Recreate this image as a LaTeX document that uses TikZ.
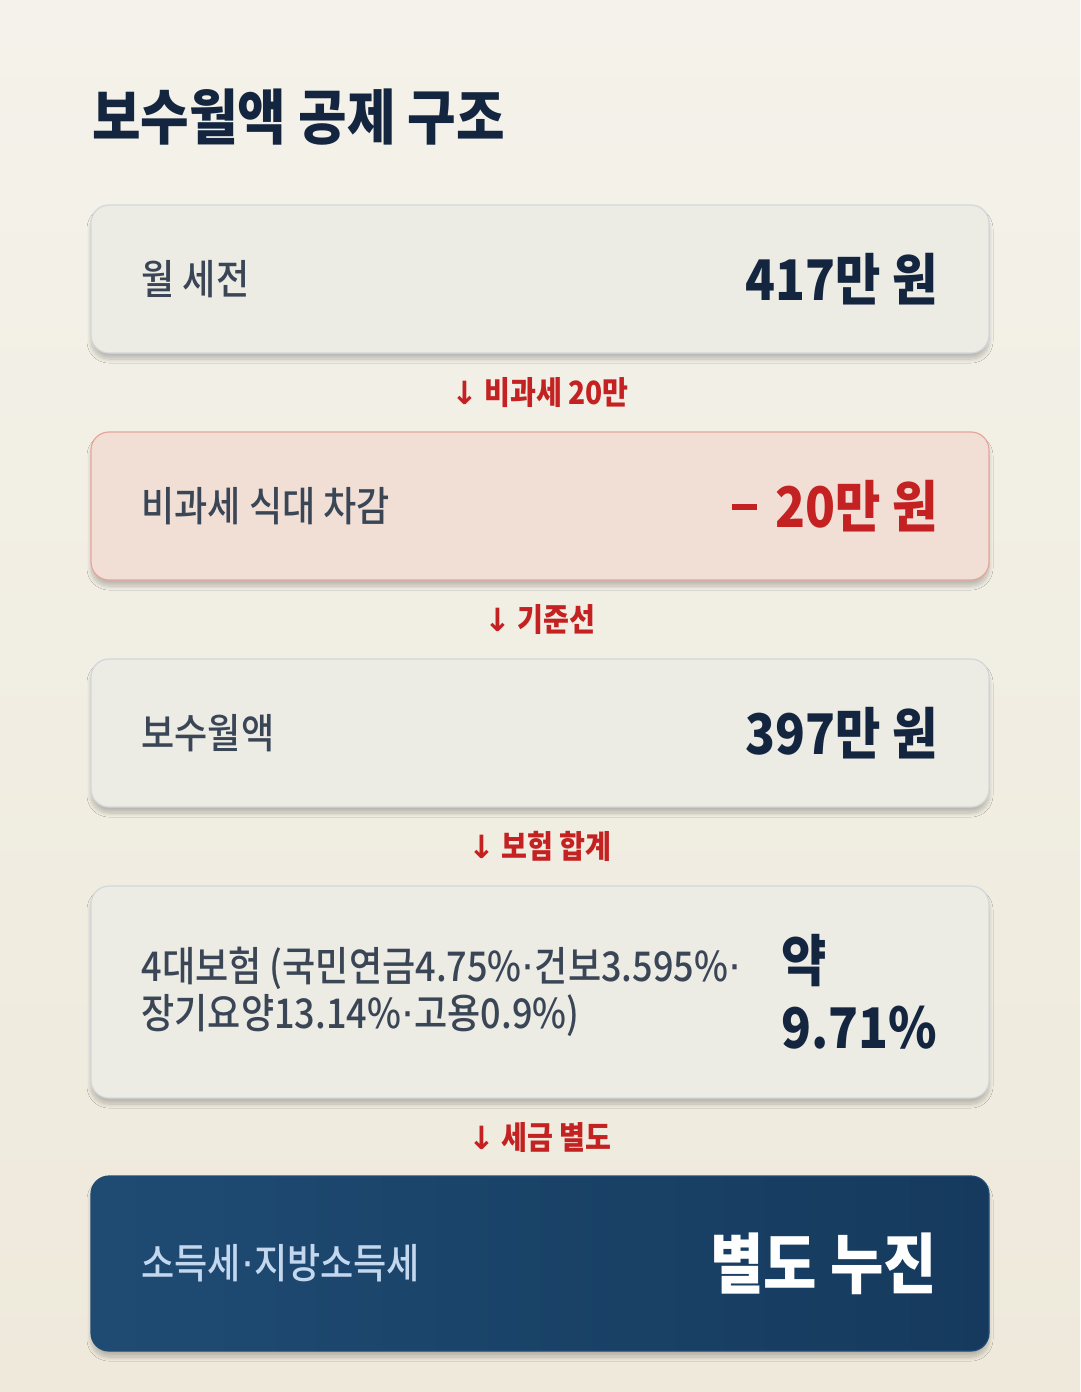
\documentclass[tikz,border=0pt]{standalone}
\usepackage{fontspec}
\setmainfont{Noto Sans CJK KR}[FakeStretch=0.88]
\newfontfamily\krmed{Noto Sans CJK KR Medium}[FakeStretch=0.88]
\newfontfamily\symfont{DejaVu Sans}
\usetikzlibrary{positioning,calc,shadows.blur}

\definecolor{bgtop}{HTML}{F4F2EA}
\definecolor{bgbot}{HTML}{EEE9DB}
\definecolor{cardfill}{HTML}{ECEBE4}
\definecolor{cardline}{HTML}{D2D7DB}
\definecolor{minusfill}{HTML}{F1DFD6}
\definecolor{minusline}{HTML}{E7A59B}
\definecolor{navyl}{HTML}{1F4B73}
\definecolor{navyr}{HTML}{153A5D}
\definecolor{navytext}{HTML}{14263F}
\definecolor{labeltext}{HTML}{3A4656}
\definecolor{redtext}{HTML}{C42222}
\definecolor{paletext}{HTML}{C3D7EE}

\tikzset{
  card/.style={draw=cardline, line width=1.2pt, rounded corners=18pt,
    minimum width=898pt, inner sep=0pt, fill=cardfill,
    blur shadow={shadow xshift=0pt, shadow yshift=-6pt,
      shadow blur radius=4pt, shadow blur steps=12, shadow opacity=22}},
  lbl/.style={inner sep=0pt, text=labeltext, font=\krmed\fontsize{41}{47}\selectfont, align=left},
  val/.style={inner sep=0pt, text=navytext, font=\fontsize{56}{67}\selectfont\bfseries, align=left},
  steplbl/.style={inner sep=0pt, text=redtext, font=\krmed\fontsize{32}{36}\selectfont\bfseries},
}
\newcommand{\downarr}{{\symfont\bfseries ↓}\hspace{6pt}}
\newcommand{\mdot}{{\symfont ·}}

\begin{document}
\begin{tikzpicture}[x=1pt, y=-1pt, line join=round]

% background
\shade[top color=bgtop, bottom color=bgbot] (0,0) rectangle (1080,1392);
\useasboundingbox (0,0) rectangle (1080,1392);

% title
\node[inner sep=0pt, anchor=west, text=navytext, font=\fontsize{60}{64}\selectfont\bfseries]
  (title) at (92,117) {보수월액 공제 구조};

% Cards ------------------------------
\node[card, minimum height=148pt] (gross) at (540,279) {};
\node[card, minimum height=148pt, fill=minusfill, draw=minusline] (meal) at (540,506) {};
\node[card, minimum height=148pt] (base) at (540,733) {};
\node[card, minimum height=212pt] (ins) at (540,992) {};
\node[card, minimum height=175pt, draw=navyl, left color=navyl, right color=navyr] (tax) at (540,1263.5) {};

% texts inside cards
\node[lbl, right=51pt of gross.west] (grossL) {월 세전};
\node[val, left=52pt of gross.east] (grossV) {417만 원};

\node[lbl, right=51pt of meal.west] (mealL) {비과세 식대 차감};
\node[val, text=redtext, left=52pt of meal.east] (mealV) {\rule[17pt]{25pt}{6pt}\hspace{18pt}20만 원};

\node[lbl, right=51pt of base.west] (baseL) {보수월액};
\node[val, left=52pt of base.east] (baseV) {397만 원};

\node[lbl, right=51pt of ins.west] (insL) {4대보험 (국민연금4.75\%\mdot 건보3.595\%\mdot\\장기요양13.14\%\mdot 고용0.9\%)};
\node[val, left=52pt of ins.east] (insV) {약\\9.71\%};

\node[lbl, text=paletext, right=51pt of tax.west] (taxL) {소득세\mdot 지방소득세};
\node[val, text=white, font=\fontsize{66}{70}\selectfont\bfseries, left=52pt of tax.east] (taxV) {별도 누진};

% step labels between cards
\node[steplbl] (s1) at ($(gross.south)!0.5!(meal.north)$) {\downarr 비과세 20만};
\node[steplbl] (s2) at ($(meal.south)!0.5!(base.north)$) {\downarr 기준선};
\node[steplbl] (s3) at ($(base.south)!0.5!(ins.north)$) {\downarr 보험 합계};
\node[steplbl] (s4) at ($(ins.south)!0.5!(tax.north)$) {\downarr 세금 별도};

\end{tikzpicture}
\end{document}
